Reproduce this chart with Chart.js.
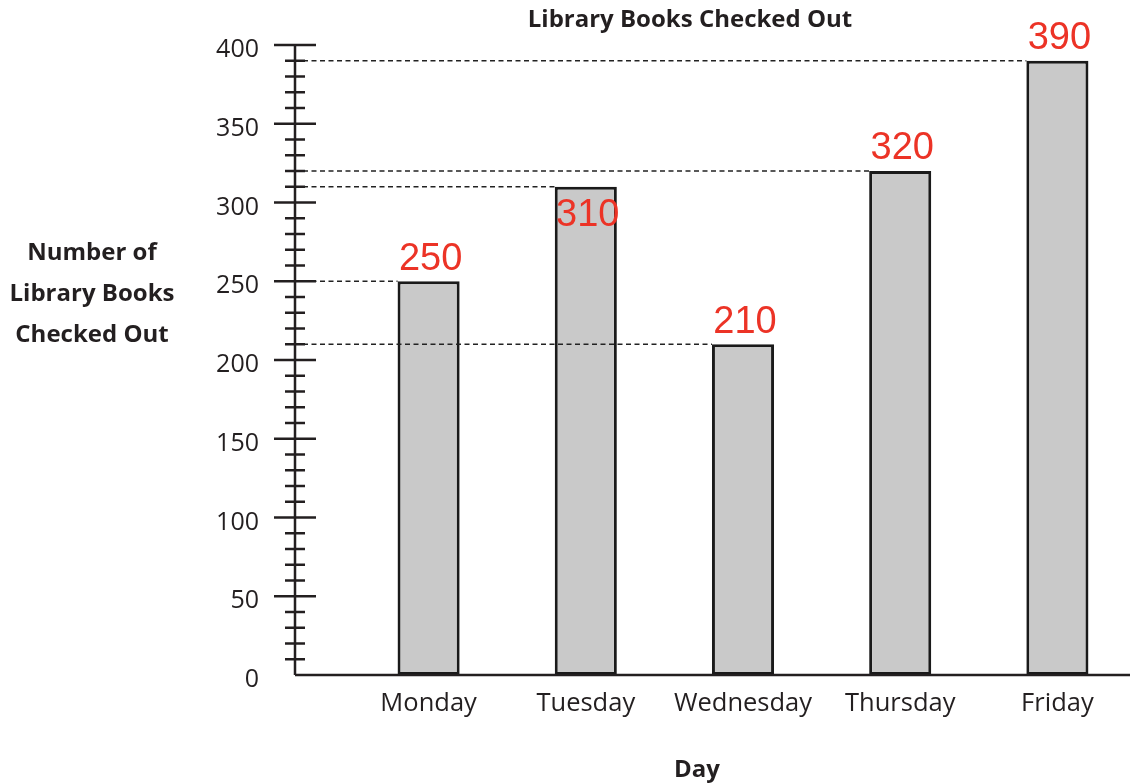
<!DOCTYPE html>
<html>
<head>
<meta charset="utf-8">
<title>Library Books Checked Out</title>
<script src="https://cdn.jsdelivr.net/npm/chart.js@4.4.1/dist/chart.umd.min.js"></script>
<style>
  body { margin: 0; background: #fff; overflow: hidden; }
  canvas { display: block; }
</style>
</head>
<body>
<canvas id="chartLibros" width="1136" height="783"></canvas>
<script>
// datos del grafico
const dias = ['Monday', 'Tuesday', 'Wednesday', 'Thursday', 'Friday'];
const libros = [250, 310, 210, 320, 390];
const yMin = 0;
const yMax = 400;
const yPaso = 10;
const yTitulo = ['Number of', 'Library Books', 'Checked Out'];

const TINTA = '#231f20';
const EJE_X = 295; // donde va la linea vertical del eje

// eje Y dibujado a mano (linea, marcas largas y cortas), titulos y lineas de guia
const extras = {
    id: 'extras',
    beforeDatasetsDraw(chart) {
        const ctx = chart.ctx;
        const y = chart.scales.y;
        const y0 = y.getPixelForValue(yMin);
        ctx.save();
        ctx.strokeStyle = TINTA;
        ctx.lineWidth = 2.5;
        ctx.beginPath();
        ctx.moveTo(EJE_X, y.getPixelForValue(yMax));
        ctx.lineTo(EJE_X, y0);
        ctx.stroke();
        y.ticks.forEach(function(t) {
            if (t.value === yMin) return;
            const py = y.getPixelForValue(t.value);
            const mayor = t.value % 50 === 0;
            ctx.beginPath();
            ctx.moveTo(mayor ? EJE_X - 21 : EJE_X - 10, py);
            ctx.lineTo(mayor ? EJE_X + 21 : EJE_X + 10, py);
            ctx.stroke();
        });
        ctx.restore();
    },
    afterDatasetsDraw(chart) {
        const ctx = chart.ctx;
        const y = chart.scales.y;
        const y0 = y.getPixelForValue(yMin);
        const meta = chart.getDatasetMeta(0);
        ctx.save();
        // lineas punteadas desde el eje hasta cada barra
        ctx.strokeStyle = '#222';
        ctx.lineWidth = 1.3;
        ctx.setLineDash([5, 3.5]);
        meta.data.forEach(function(bar) {
            ctx.beginPath();
            ctx.moveTo(EJE_X + 8, bar.y);
            ctx.lineTo(bar.x - bar.width / 2, bar.y);
            ctx.stroke();
        });
        ctx.setLineDash([]);

        // eje X
        ctx.strokeStyle = TINTA;
        ctx.lineWidth = 2.5;
        ctx.beginPath();
        ctx.moveTo(EJE_X, y0);
        ctx.lineTo(chart.width, y0);
        ctx.stroke();

        // valores en rojo
        ctx.fillStyle = '#ec3326';
        ctx.font = '38px "Liberation Sans Narrow", "Liberation Sans", sans-serif';
        ctx.textAlign = 'center';
        ctx.textBaseline = 'middle';
        meta.data.forEach(function(bar, i) {
            const dy = i === 1 ? 29 : -22; // el de martes va dentro de la barra
            ctx.fillText(String(libros[i]), bar.x + 2, bar.y + dy);
        });

        // titulos
        ctx.fillStyle = TINTA;
        ctx.font = 'bold 24px "Open Sans", sans-serif';
        ctx.fillText('Library Books Checked Out', 690, 20);
        ctx.fillText('Day', 697, 770);
        yTitulo.forEach(function(linea, i) {
            ctx.fillText(linea, 92, 253 + i * 41);
        });
        ctx.restore();
    }
};

new Chart(document.getElementById('chartLibros'), {
    type: 'bar',
    data: {
        labels: dias,
        datasets: [{
            label: 'Books',
            data: libros,
            backgroundColor: '#c9c9c9',
            borderColor: '#1a1a1a',
            borderWidth: 3,
            borderSkipped: false,
            categoryPercentage: 1,
            barPercentage: 0.395
        }]
    },
    options: {
        responsive: false,
        animation: false,
        devicePixelRatio: 1,
        layout: { padding: { top: 45, left: 0, right: 0, bottom: 0 } },
        plugins: {
            legend: { display: false },
            tooltip: { enabled: false }
        },
        scales: {
            x: {
                grid: { display: false, drawTicks: false },
                border: { display: false },
                ticks: {
                    color: TINTA,
                    padding: 13,
                    font: { family: 'Open Sans', size: 25.5 }
                },
                afterFit(scale) { scale.height = 108; }
            },
            y: {
                min: yMin,
                max: yMax,
                grid: { display: false, drawTicks: false },
                border: { display: false },
                ticks: {
                    stepSize: yPaso,
                    autoSkip: false,
                    color: TINTA,
                    padding: 91,
                    labelOffset: 5,
                    font: { family: 'Open Sans', size: 25 },
                    callback: function(v) { return v % 50 === 0 ? v : ''; }
                },
                afterFit(scale) {
                    scale.width = 350;
                    scale.paddingTop = 0;
                    scale.paddingBottom = 0;
                }
            }
        }
    },
    plugins: [extras]
});
</script>
</body>
</html>
